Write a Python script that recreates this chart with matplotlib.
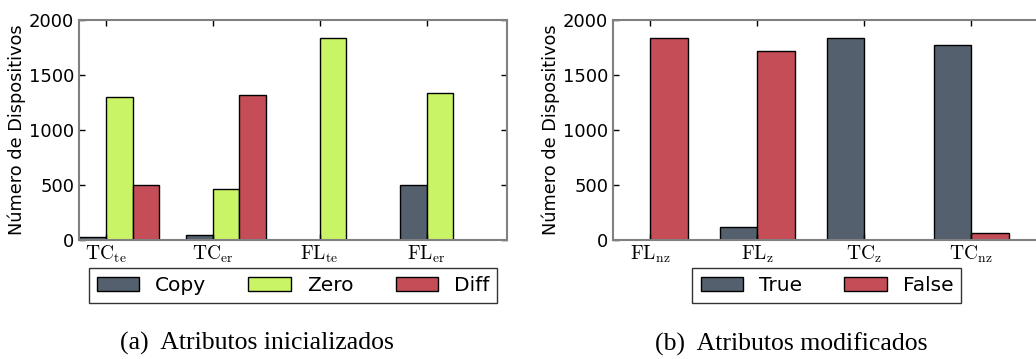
import numpy as np
import matplotlib
matplotlib.use('Agg')
import matplotlib.pyplot as plt

# (a) Atributos inicializados
cats_a = [r'$\mathrm{TC}_{\mathrm{te}}$', r'$\mathrm{TC}_{\mathrm{er}}$',
          r'$\mathrm{FL}_{\mathrm{te}}$', r'$\mathrm{FL}_{\mathrm{er}}$']
copy_vals = [25, 45, 3, 497]
zero_vals = [1303, 465, 1839, 1335]
diff_vals = [502, 1317, 3, 3]

# (b) Atributos modificados
cats_b = [r'$\mathrm{FL}_{\mathrm{nz}}$', r'$\mathrm{FL}_{\mathrm{z}}$',
          r'$\mathrm{TC}_{\mathrm{z}}$', r'$\mathrm{TC}_{\mathrm{nz}}$']
true_vals = [3, 120, 1840, 1770]
false_vals = [1840, 1717, 3, 65]

DARK = '#54606e'
LIME = '#c9f465'
RED = '#c44d58'

plt.rcParams['mathtext.fontset'] = 'cm'

fig = plt.figure(figsize=(10.36, 3.59), dpi=100)
ax1 = fig.add_axes([0.0763, 0.3315, 0.413, 0.6128])
ax2 = fig.add_axes([0.5917, 0.3315, 0.413, 0.6128])


def style_axis(ax, labels, offset, right=True):
    ax.set_xlim(0, 4)
    ax.set_ylim(0, 2000)
    ax.set_yticks([0, 500, 1000, 1500, 2000])
    ax.set_xticks(np.arange(4) + offset)
    ax.set_xticklabels(labels)
    ax.tick_params(direction='in', top=True, right=right, length=4,
                   labelsize=13, width=1)
    ax.tick_params(axis='x', labelsize=14, pad=3)
    for s in ax.spines.values():
        s.set_color('#808080')
        s.set_linewidth(1.5)
    ax.set_ylabel('Número de Dispositivos', fontsize=12.8, labelpad=2)


def add_legend(ax, ncol):
    leg = ax.legend(loc='upper center', bbox_to_anchor=(0.5, -0.127), ncol=ncol,
                    fontsize=14.5, fancybox=False, edgecolor='black',
                    handlelength=2.1, handleheight=0.75, columnspacing=2.1,
                    borderpad=0.4, borderaxespad=0)
    leg.get_frame().set_linewidth(1)
    return leg


x = np.arange(4)
w = 0.25
ax1.bar(x, copy_vals, w, align='edge', color=DARK, edgecolor='black', label='Copy')
ax1.bar(x + w, zero_vals, w, align='edge', color=LIME, edgecolor='black', label='Zero')
ax1.bar(x + 2 * w, diff_vals, w, align='edge', color=RED, edgecolor='black', label='Diff')
style_axis(ax1, cats_a, w)
add_legend(ax1, 3)

w2 = 0.35
ax2.bar(x, true_vals, w2, align='edge', color=DARK, edgecolor='black', label='True')
ax2.bar(x + w2, false_vals, w2, align='edge', color=RED, edgecolor='black', label='False')
style_axis(ax2, cats_b, w2, right=False)
add_legend(ax2, 2)

fig.text(0.248, 0.042, '(a)  Atributos inicializados', ha='center', va='center',
         family='Liberation Serif', fontsize=18.5)
fig.text(0.764, 0.042, '(b)  Atributos modificados', ha='center', va='center',
         family='Liberation Serif', fontsize=18.5)

fig.savefig('out.png', dpi=100)
